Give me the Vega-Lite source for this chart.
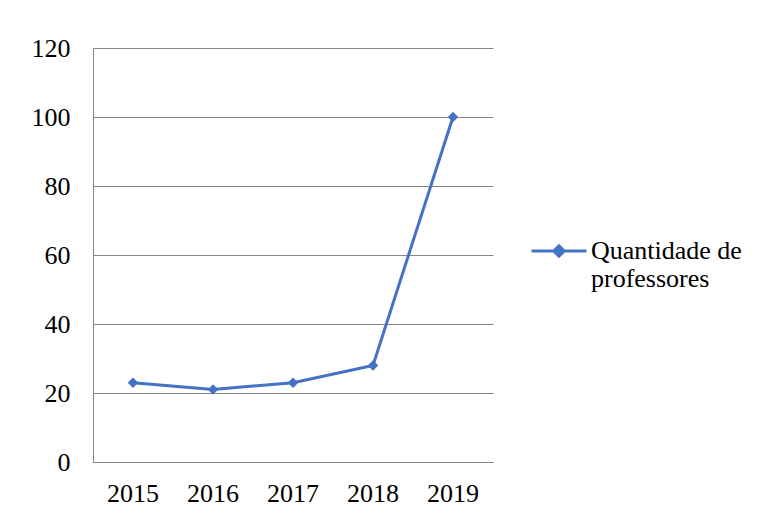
{
  "$schema": "https://vega.github.io/schema/vega-lite/v6.json",
  "width": 400,
  "height": 414,
  "autosize": {"type": "none"},
  "padding": {"left": 93, "top": 48, "right": 265, "bottom": 59},
  "background": "white",
  "config": {
    "view": {"stroke": null},
    "font": "Liberation Serif"
  },
  "data": {
    "values": [
      {"ano": "2015", "valor": 23, "serie": "Quantidade de professores"},
      {"ano": "2016", "valor": 21, "serie": "Quantidade de professores"},
      {"ano": "2017", "valor": 23, "serie": "Quantidade de professores"},
      {"ano": "2018", "valor": 28, "serie": "Quantidade de professores"},
      {"ano": "2019", "valor": 100, "serie": "Quantidade de professores"}
    ]
  },
  "mark": {
    "type": "line",
    "strokeWidth": 3,
    "point": {"shape": "diamond", "filled": true, "size": 110}
  },
  "encoding": {
    "x": {
      "field": "ano",
      "type": "ordinal",
      "scale": {"type": "band", "paddingInner": 0, "paddingOuter": 0},
      "axis": {
        "title": null,
        "labelAngle": 0,
        "ticks": false,
        "domainColor": "#868686",
        "domainWidth": 1,
        "labelFont": "Liberation Serif",
        "labelFontSize": 26,
        "labelColor": "#000000",
        "labelPadding": 18
      }
    },
    "y": {
      "field": "valor",
      "type": "quantitative",
      "scale": {"domain": [0, 120], "nice": false},
      "axis": {
        "title": null,
        "values": [0, 20, 40, 60, 80, 100, 120],
        "ticks": false,
        "grid": true,
        "gridColor": "#868686",
        "gridWidth": 1,
        "domain": true,
        "domainColor": "#868686",
        "labelFont": "Liberation Serif",
        "labelFontSize": 26,
        "labelColor": "#000000",
        "labelPadding": 23
      }
    },
    "color": {
      "field": "serie",
      "type": "nominal",
      "scale": {"range": ["#4472C4"]},
      "legend": {
        "title": null,
        "orient": "none",
        "legendX": 437,
        "legendY": 174,
        "padding": 0,
        "symbolType": "M-1,0L1,0M0,-0.19L0.19,0L0,0.19L-0.19,0Z",
        "symbolSize": 3025,
        "symbolStrokeWidth": 3,
        "symbolFillColor": "#4472C4",
        "symbolStrokeColor": "#4472C4",
        "labelOffset": 3,
        "labelFont": "Liberation Serif",
        "labelFontSize": 26,
        "labelLineHeight": 31,
        "labelColor": "#000000",
        "labelLimit": 300,
        "labelExpr": "['Quantidade de', 'professores']"
      }
    }
  }
}
